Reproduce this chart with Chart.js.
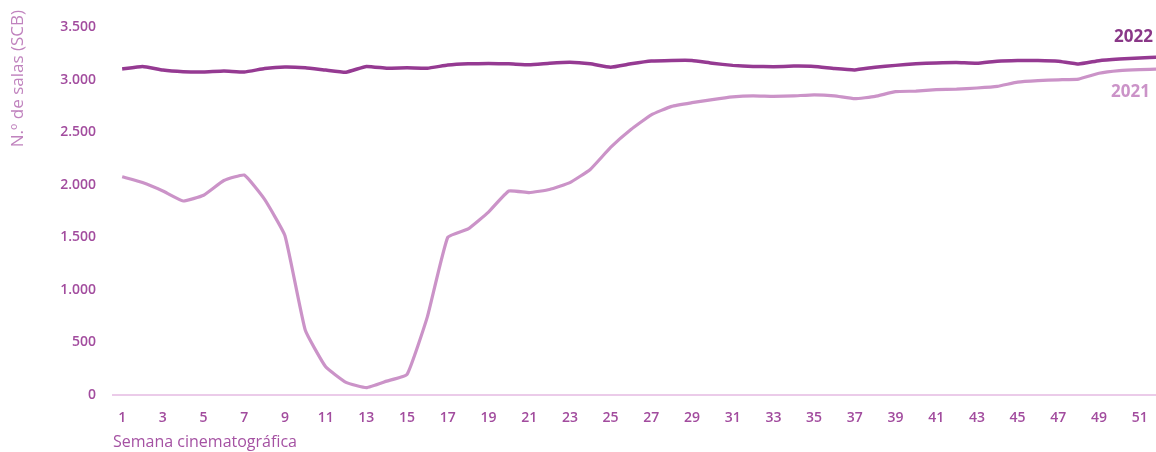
<!DOCTYPE html>
<html>
<head>
<meta charset="utf-8">
<script src="https://cdn.jsdelivr.net/npm/chart.js@4"></script>
<style>
	html, body { margin: 0; padding: 0; background: #fff; }
	#wrap { width: 1156px; height: 452px; }
</style>
</head>
<body>
<div id="wrap"><canvas id="salasChart" width="1156" height="452"></canvas></div>
<script>
const weeks = [1,2,3,4,5,6,7,8,9,10,11,12,13,14,15,16,17,18,19,20,21,22,23,24,25,26,
	27,28,29,30,31,32,33,34,35,36,37,38,39,40,41,42,43,44,45,46,47,48,49,50,51,52];

const salas2022 = [3100,3125,3090,3075,3072,3082,3072,3105,3120,3112,3090,3070,3125,3108,3112,3108,
	3138,3150,3152,3150,3140,3155,3165,3150,3118,3150,3176,3182,3182,3155,3135,3125,3122,3128,3125,
	3105,3092,3118,3135,3150,3158,3162,3155,3175,3182,3182,3175,3148,3180,3195,3205,3215];

const salas2021 = [2075,2020,1940,1845,1900,2040,2092,1860,1515,615,268,120,70,132,196,745,
	1500,1580,1740,1940,1925,1955,2020,2145,2355,2525,2665,2745,2780,2810,2835,2845,2840,2845,2855,
	2845,2818,2840,2885,2890,2905,2910,2920,2935,2975,2990,2998,3005,3060,3085,3095,3100];

const weekTicks = [1,3,5,7,9,11,13,15,17,19,21,23,25,27,29,31,33,35,37,39,41,43,45,47,49,51];
const yTicks = [0,500,1000,1500,2000,2500,3000,3500];

const seriesNames = ['2022', '2021'];
const color2022 = '#953a92';
const color2021 = '#cb93c8';
const tickColor = '#a24c9e';

function toPoints(values) {
	return values.map((v, i) => ({ x: weeks[i], y: v }));
}

// etiquetas de serie y titulo del eje Y
const extraText = {
	id: 'extraText',
	afterDatasetsDraw(chart) {
		const { ctx, chartArea, scales } = chart;
		ctx.save();
		ctx.font = 'bold 17px "Open Sans"';
		ctx.textAlign = 'right';
		ctx.textBaseline = 'middle';
		ctx.fillStyle = '#8a3888';
		ctx.fillText(seriesNames[0], chartArea.right - 3, scales.y.getPixelForValue(salas2022[salas2022.length - 1]) - 20);
		ctx.fillStyle = color2021;
		ctx.fillText(seriesNames[1], chartArea.right - 6, scales.y.getPixelForValue(salas2021[salas2021.length - 1]) + 23);

		ctx.translate(18, 10);
		ctx.rotate(-Math.PI / 2);
		ctx.font = '17px "Open Sans"';
		ctx.fillStyle = '#c083be';
		ctx.textAlign = 'right';
		ctx.fillText('N.º de salas (SCB)', 0, 0);
		ctx.restore();
	}
};

const ctx = document.getElementById('salasChart').getContext('2d');

new Chart(ctx, {
	type: 'line',
	data: {
		datasets: [{
			label: seriesNames[0],
			data: toPoints(salas2022),
			borderColor: color2022,
			borderWidth: 3.5,
			pointRadius: 0,
			tension: 0.12
		}, {
			label: seriesNames[1],
			data: toPoints(salas2021),
			borderColor: color2021,
			borderWidth: 3.2,
			pointRadius: 0,
			tension: 0.12
		}]
	},
	options: {
		responsive: false,
		animation: false,
		layout: { padding: { top: 27, right: 0, left: 0, bottom: 0 } },
		plugins: {
			legend: { display: false },
			tooltip: { enabled: false }
		},
		scales: {
			x: {
				type: 'linear',
				min: 0.55,
				max: 51.8,
				afterBuildTicks: axis => { axis.ticks = weekTicks.map(v => ({ value: v })); },
				afterFit: axis => { axis.height = 57; },
				grid: { display: false },
				border: { display: true, color: '#ebcbe9', width: 2 },
				ticks: {
					color: tickColor,
					font: { family: 'Open Sans', size: 14, weight: '600' },
					padding: 7,
					maxRotation: 0,
					autoSkip: false
				},
				title: {
					display: true,
					text: 'Semana cinematográfica',
					align: 'start',
					color: '#a552a3',
					font: { family: 'Open Sans', size: 16 },
					padding: { top: 0, bottom: 0 }
				}
			},
			y: {
				min: 0,
				max: 3500,
				afterBuildTicks: axis => { axis.ticks = yTicks.map(v => ({ value: v })); },
				afterFit: axis => { axis.width = 113; },
				grid: { display: false },
				border: { display: false },
				ticks: {
					color: tickColor,
					font: { family: 'Open Sans', size: 14, weight: '600' },
					padding: 9,
					callback: v => v.toLocaleString('de-DE')
				}
			}
		}
	},
	plugins: [extraText]
});
</script>
</body>
</html>
